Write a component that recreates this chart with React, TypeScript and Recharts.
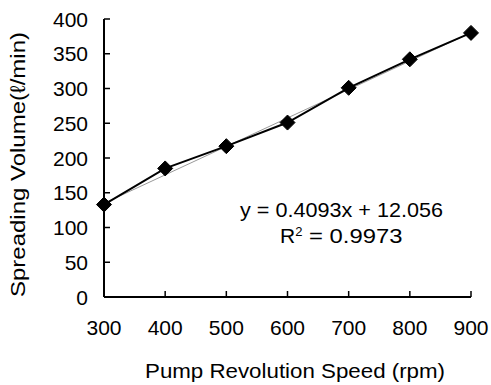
import React from "react";
import { LineChart, Line, XAxis, YAxis, Customized } from "recharts";

const speeds = [300, 400, 500, 600, 700, 800, 900];
const volumes = [133, 185, 217, 251, 301, 342, 380];
const trendX = [300, 900];
const trendY = [134.8, 380.4];
const xTicks = [300, 400, 500, 600, 700, 800, 900];
const yTicks = [0, 50, 100, 150, 200, 250, 300, 350, 400];
const eqLine1 = "y = 0.4093x + 12.056";
const eqLine2Base = "R";
const eqLine2Rest = " = 0.9973";
const xTitle = "Pump Revolution Speed (rpm)";
const yTitle = "Spreading Volume(\u2113/min)";

const data = speeds.map((s, i) => ({ x: s, y: volumes[i] }));
const trend = trendX.map((s, i) => ({ x: s, y: trendY[i] }));

const FONT = "'Liberation Sans', Arial, sans-serif";
const FS = 21;

const Diamond = (props: any) => {
  const { cx, cy } = props;
  if (cx == null || cy == null) return null;
  const r = 7.5;
  return (
    <path
      d={`M${cx},${cy - r} L${cx + r},${cy} L${cx},${cy + r} L${cx - r},${cy} Z`}
      fill="#000"
      stroke="#000"
    />
  );
};

const YTick = (props: any) => {
  const { x, y, payload } = props;
  return (
    <g>
      <line x1={x + 16} x2={x + 22} y1={y} y2={y} stroke="#000" strokeWidth={1.5} />
      <text x={x} y={y} textAnchor="end" dominantBaseline="central" fontFamily={FONT} fontSize={FS} fill="#000">
        {payload.value}
      </text>
    </g>
  );
};

const XTick = (props: any) => {
  const { x, y, payload } = props;
  return (
    <g>
      <line x1={x} x2={x} y1={y} y2={y - 6} stroke="#000" strokeWidth={1.5} />
      <text x={x} y={y + 30} textAnchor="middle" dominantBaseline="central" fontFamily={FONT} fontSize={FS} fill="#000">
        {payload.value}
      </text>
    </g>
  );
};

const Texts = () => (
  <g fontFamily={FONT} fill="#000">
    <text
      x={145}
      y={378}
      fontSize={FS}
      textLength={300}
      lengthAdjust="spacingAndGlyphs"
    >
      {xTitle}
    </text>
    <text
      x={0}
      y={0}
      fontSize={FS}
      textLength={265}
      lengthAdjust="spacingAndGlyphs"
      transform="translate(25 297) rotate(-90)"
    >
      {yTitle}
    </text>
    <text x={240} y={217} fontSize={FS} textLength={203} lengthAdjust="spacingAndGlyphs">
      {eqLine1}
    </text>
    <text x={280} y={243} fontSize={FS}>
      {eqLine2Base}
      <tspan fontSize={13} dy={-7}>2</tspan>
      <tspan dy={7} textLength={100} lengthAdjust="spacingAndGlyphs">{eqLine2Rest}</tspan>
    </text>
  </g>
);

export default function App() {
  return (
    <div style={{ position: "absolute", left: 0, top: 0, background: "#fff" }}>
      <LineChart width={491} height={385} margin={{ top: 19, right: 20, bottom: 0, left: 0 }}>
        <XAxis
          type="number"
          dataKey="x"
          domain={[300, 900]}
          ticks={xTicks}
          allowDuplicatedCategory={false}
          height={88}
          tickSize={0}
          tickMargin={0}
          tick={<XTick />}
          axisLine={{ stroke: "#000", strokeWidth: 2 }}
          tickLine={false}
        />
        <YAxis
          type="number"
          domain={[0, 400]}
          ticks={yTicks}
          width={104}
          tickSize={0}
          tickMargin={16}
          tick={<YTick />}
          axisLine={{ stroke: "#000", strokeWidth: 2 }}
          tickLine={false}
        />
        <Line
          data={trend}
          dataKey="y"
          stroke="#999"
          strokeWidth={1}
          dot={false}
          isAnimationActive={false}
        />
        <Line
          data={data}
          dataKey="y"
          stroke="#000"
          strokeWidth={2}
          dot={<Diamond />}
          isAnimationActive={false}
        />
        <Customized component={Texts} />
      </LineChart>
    </div>
  );
}
